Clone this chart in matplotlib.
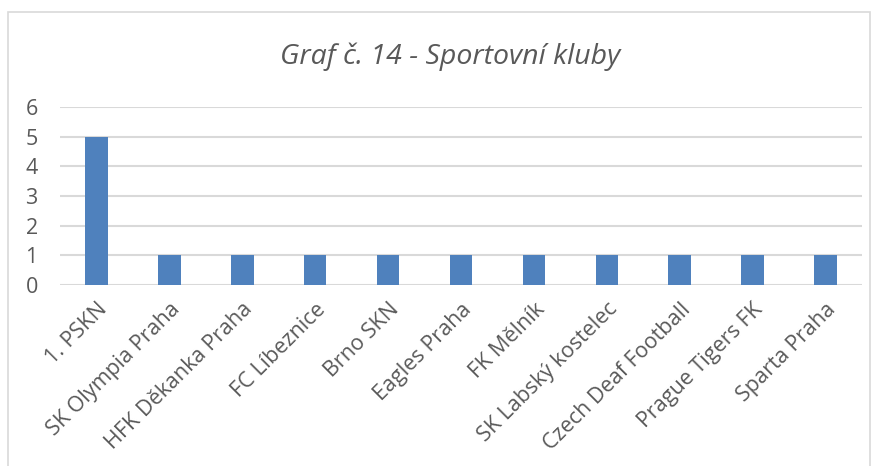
import matplotlib.pyplot as plt
from matplotlib.patches import Rectangle

# data
kluby = ["1. PSKN", "SK Olympia Praha", "HFK Děkanka Praha", "FC Líbeznice",
         "Brno SKN", "Eagles Praha", "FK Mělník", "SK Labský kostelec",
         "Czech Deaf Football", "Prague Tigers FK", "Sparta Praha"]
pocty = [5, 1, 1, 1, 1, 1, 1, 1, 1, 1, 1]
y_ticks = [0, 1, 2, 3, 4, 5, 6]
titulek = "Graf č. 14 - Sportovní kluby"

plt.rcParams['font.family'] = ['Open Sans', 'DejaVu Sans']
seda = '#595959'

fig = plt.figure(figsize=(8.78, 4.66), dpi=100)
fig.patches.append(Rectangle((8/878, -0.1), 862/878, 1.1 - 12/466,
                             transform=fig.transFigure, fill=False,
                             edgecolor='#d9d9d9', linewidth=1.2))

ax = fig.add_axes([60/878, 1 - 285/466, 802/878, 178/466])
x = range(len(kluby))
ax.bar(x, pocty, width=0.31, color='#4f81bd', zorder=3)

ax.set_ylim(0, 6)
ax.set_xlim(-0.5, len(kluby) - 0.5)
ax.set_yticks(y_ticks)
ax.set_xticks(list(x))
ax.set_xticklabels(kluby, rotation=45, ha='right', rotation_mode='anchor')
ax.tick_params(axis='both', length=0, labelsize=15.5, colors=seda)
ax.tick_params(axis='y', pad=16)
ax.tick_params(axis='x', pad=10)
ax.grid(axis='y', color='#d9d9d9', linewidth=1.5, zorder=0)
for s in ax.spines.values():
    s.set_visible(False)

fig.text(450/878, 1 - 57/466, titulek, ha='center', va='center',
         fontsize=20.5, style='italic', color=seda)

fig.savefig('out.png', dpi=100)
